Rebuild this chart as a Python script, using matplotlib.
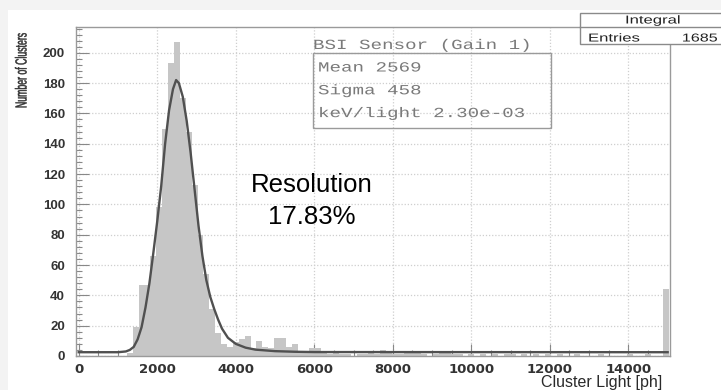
import numpy as np
import matplotlib
matplotlib.use("Agg")
import matplotlib.pyplot as plt
from matplotlib.patches import Rectangle, PathPatch
from matplotlib.textpath import TextPath
from matplotlib.font_manager import FontProperties
from matplotlib.transforms import Affine2D
from matplotlib.ticker import MultipleLocator

W, H = 721, 390

# histogram: 150 ph bins, first bin centred on -50
BIN_START = -125
BIN_WIDTH = 150
counts = [
    0, 0, 0, 0, 0, 0, 0, 0, 0, 2,
    19, 47, 47, 66, 98, 150, 193, 207, 170, 148,
    113, 80, 54, 31, 15, 8, 6, 9, 11, 13,
    5, 10, 6, 5, 12, 12, 6, 8, 2, 2,
    5, 5, 2, 1, 2, 1, 1, 0, 1, 1,
    2, 1, 4, 3, 1, 1, 2, 3, 3, 1,
    0, 1, 2, 2, 1, 1, 0, 1, 0, 1,
    0, 1, 0, 1, 1, 0, 1, 0, 1, 0,
    1, 0, 1, 0, 0, 1, 0, 0, 0, 1,
    0, 0, 0, 0, 1, 0, 0, 1, 0, 0,
    44,
]

# fitted curve
fit_x = [0, 1000, 1200, 1300, 1400, 1500, 1600, 1700, 1800, 1900,
         2000, 2100, 2200, 2300, 2400, 2480, 2550, 2650, 2750, 2850,
         2950, 3050, 3150, 3250, 3350, 3450, 3550, 3650, 3800, 4000,
         4250, 4500, 5000, 5500, 6000, 15000]
fit_y = [2.5, 2.5, 3, 4, 6, 11, 19, 32, 48, 68,
         89, 112, 140, 162, 176, 182, 180, 171, 155, 134,
         110, 86, 66, 50, 39, 31, 24, 18, 12, 8,
         5.5, 4.2, 3.2, 2.8, 2.6, 2.5]

stats_title = "BSI Sensor (Gain 1)"
stats_lines = ["Mean 2569", "Sigma 458", "keV/light 2.30e-03"]
n_entries = 1685
resolution = 17.83


def fx(x):
    return x / W


def fy(y):
    return 1 - y / H


def path_text(fig, s, x, y, size, family, color, sx=1.0, ha="left", rotate=0, stroke=0):
    # text drawn as a path so it can be stretched; x, y in pixels from top-left, y = baseline
    tp = TextPath((0, 0), s, size=size, prop=FontProperties(family=family))
    bb = tp.get_extents()
    if ha == "center":
        dx = -(bb.x0 + bb.x1) / 2
    elif ha == "right":
        dx = -bb.x1
    else:
        dx = 0
    tr = Affine2D().translate(dx, 0).scale(sx, 1).rotate_deg(rotate).translate(x, H - y)
    fig.add_artist(PathPatch(tp, transform=tr, facecolor=color,
                             edgecolor=color if stroke else "none", lw=stroke, zorder=10))


edges = BIN_START + BIN_WIDTH * np.arange(len(counts) + 1)

fig = plt.figure(figsize=(W / 100, H / 100), dpi=100)
fig.patch.set_facecolor("#f3f3f3")
fig.patches.append(Rectangle((fx(8), 0), 1, fy(10), transform=fig.transFigure,
                             facecolor="white", edgecolor="none", zorder=-5))

ax = fig.add_axes([fx(76), fy(356), fx(670) - fx(76), fy(27) - fy(356)])
ax.set_facecolor("none")
ax.stairs(counts, edges, fill=True, color="#c6c6c6", zorder=2)
ax.plot(fit_x, fit_y, color="#505050", lw=1.7, zorder=3)

ax.set_xlim(-70, 15060)
ax.set_ylim(0, 217)
ax.xaxis.set_major_locator(MultipleLocator(2000))
ax.xaxis.set_minor_locator(MultipleLocator(500))
ax.yaxis.set_major_locator(MultipleLocator(20))
ax.yaxis.set_minor_locator(MultipleLocator(4))
ax.grid(True, which="major", color="#cfcfcf", linestyle=(0, (1, 1.5)), lw=0.9, zorder=1)
ax.tick_params(which="major", direction="in", length=9, width=0.8, color="#888888",
               labelcolor="#333333")
ax.tick_params(which="minor", direction="in", length=4.5, width=0.8, color="#888888")
ax.tick_params(axis="x", pad=5)
ax.tick_params(axis="y", pad=8)
for lab in ax.get_xticklabels():
    lab.set_fontfamily("DejaVu Sans")
    lab.set_fontweight("bold")
    lab.set_fontsize(9.5)
for lab in ax.get_yticklabels():
    lab.set_fontfamily("Liberation Sans")
    lab.set_fontweight("bold")
    lab.set_fontsize(9.5)
for sp in ax.spines.values():
    sp.set_color("#9a9a9a")
    sp.set_linewidth(1)

# stats box
path_text(fig, stats_title, 313, 49, 14, "Liberation Mono", "#7a7a7a", sx=1.37)
fig.patches.append(Rectangle((fx(313), fy(128)), fx(551) - fx(313), fy(53) - fy(128),
                             transform=fig.transFigure, facecolor="none",
                             edgecolor="#9a9a9a", lw=1, zorder=5))
for i, line in enumerate(stats_lines):
    path_text(fig, line, 318, 71.5 + 22.8 * i, 14, "Liberation Mono", "#7a7a7a", sx=1.37)

# Integral box in the top right corner
fig.patches.append(Rectangle((fx(580), fy(44)), fx(722) - fx(580), fy(13) - fy(44),
                             transform=fig.transFigure, facecolor="white",
                             edgecolor="#8a8a8a", lw=1, zorder=5))
fig.add_artist(plt.Line2D([fx(580), fx(722)], [fy(27), fy(27)], transform=fig.transFigure,
                          color="#8a8a8a", lw=1, zorder=6))
path_text(fig, "Integral", 653, 23.5, 11.5, "Liberation Sans", "#222222", sx=1.45, ha="center")
path_text(fig, "Entries", 588, 41.5, 11.5, "Liberation Sans", "#222222", sx=1.45)
path_text(fig, str(n_entries), 717, 41.5, 11.5, "Liberation Sans", "#222222", sx=1.4, ha="right")

# axis titles
path_text(fig, "Number of Clusters", 26.5, 108, 16, "Liberation Sans", "#333333",
          sx=0.545, rotate=90, stroke=0.35)
fig.text(fx(662), fy(386.5), "Cluster Light [ph]", ha="right", va="baseline",
         fontsize=11.5, family="Liberation Sans", color="#2a2a2a")

fig.text(fx(312), fy(192), "Resolution", ha="center", va="baseline",
         fontsize=18.5, family="Liberation Sans", color="black")
fig.text(fx(312), fy(224), f"{resolution:.2f}%", ha="center", va="baseline",
         fontsize=18.5, family="Liberation Sans", color="black")

fig.savefig("out.png", dpi=100, facecolor=fig.get_facecolor())
